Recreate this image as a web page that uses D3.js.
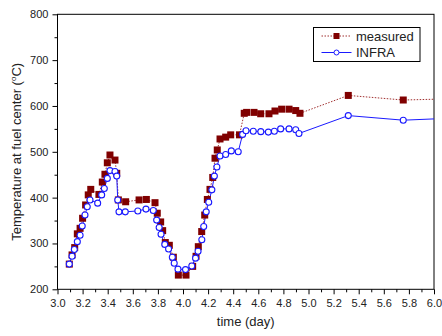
<!DOCTYPE html>
<html lang="en">
  <head>
    <meta charset="UTF-8" />
    <script src="https://d3js.org/d3.v7.min.js"></script>
    <title>Fuel center temperature</title>
    <style>
      body { margin: 0; background: #fff; }
      text { font-family: "Liberation Sans", Arial, sans-serif; }
    </style>
  </head>
  <body>
    <script>
      // measured (squares)
      const measuredTime = [3.094, 3.116, 3.137, 3.158, 3.18, 3.2, 3.224, 3.245, 3.265, 3.33, 3.357, 3.378, 3.397, 3.418, 3.458, 3.472, 3.485, 3.543, 3.65, 3.708, 3.777, 3.795, 3.822, 3.838, 3.859, 3.891, 3.923, 3.963, 4.024, 4.077, 4.104, 4.122, 4.149, 4.173, 4.194, 4.215, 4.237, 4.255, 4.273, 4.295, 4.34, 4.38, 4.45, 4.488, 4.507, 4.566, 4.619, 4.685, 4.733, 4.786, 4.845, 4.898, 4.932, 5.317, 5.755, 6.2];
      const measuredTemp = [255, 275, 291, 321, 333, 355, 384, 406, 418, 407, 434, 451, 476, 493, 482, 453, 395, 391, 395, 396, 389, 366, 347, 328, 302, 296, 270, 231, 231, 250, 272, 293, 326, 362, 396, 418, 444, 486, 504, 528, 532, 537, 537, 584, 586, 586, 583, 583, 589, 593, 593, 590, 584, 623, 613, 616];

      // INFRA (circles)
      const infraTime = [3.094, 3.116, 3.134, 3.158, 3.18, 3.197, 3.219, 3.237, 3.259, 3.32, 3.352, 3.373, 3.397, 3.418, 3.458, 3.472, 3.48, 3.49, 3.54, 3.64, 3.705, 3.763, 3.79, 3.81, 3.825, 3.855, 3.885, 3.915, 3.93, 3.96, 4.02, 4.07, 4.1, 4.12, 4.15, 4.165, 4.185, 4.205, 4.23, 4.25, 4.27, 4.295, 4.34, 4.385, 4.44, 4.475, 4.502, 4.56, 4.62, 4.68, 4.728, 4.778, 4.845, 4.898, 4.924, 5.317, 5.755, 6.2];
      const infraTemp = [255, 272, 287, 304, 318, 338, 362, 380, 395, 388, 406, 420, 442, 459, 457, 447, 395, 369, 369, 371, 375, 372, 351, 335, 320, 298, 288, 270, 257, 244, 243, 251, 268, 283, 308, 337, 369, 390, 417, 447, 467, 491, 494, 502, 500, 538, 546, 545, 544, 543, 545, 550, 550, 548, 540, 579, 569, 574];

      const xTicks = d3.range(3.0, 6.01, 0.2);
      const yTicks = [200, 300, 400, 500, 600, 700, 800];
      const seriesNames = ["measured", "INFRA"];

      const width = 442, height = 336;
      const mLeft = 57.5, mRight = 434, mTop = 14.3, mBottom = 289.3;

      const svg = d3.select("body").append("svg")
        .attr("width", width)
        .attr("height", height);

      const x = d3.scaleLinear().domain([3, 6]).range([mLeft, mRight]);
      const y = d3.scaleLinear().domain([200, 800]).range([mBottom, mTop]);

      svg.append("defs").append("clipPath").attr("id", "plot")
        .append("rect")
        .attr("x", mLeft).attr("y", mTop)
        .attr("width", mRight - mLeft).attr("height", mBottom - mTop);

      // axes
      const xAxis = d3.axisBottom(x).tickValues(xTicks).tickSize(5)
        .tickFormat(d3.format(".1f"));
      const xMinor = d3.axisBottom(x).tickValues(d3.range(3.1, 6, 0.2)).tickSize(3).tickFormat("");
      const yAxis = d3.axisLeft(y).tickValues(yTicks).tickSize(5);
      const yMinor = d3.axisLeft(y).tickValues(d3.range(250, 800, 100)).tickSize(3).tickFormat("");

      const gx = svg.append("g").attr("transform", `translate(0,${mBottom})`).call(xAxis);
      svg.append("g").attr("transform", `translate(0,${mBottom})`).call(xMinor);
      const gy = svg.append("g").attr("transform", `translate(${mLeft},0)`).call(yAxis);
      svg.append("g").attr("transform", `translate(${mLeft},0)`).call(yMinor);

      svg.selectAll(".domain").remove();
      svg.selectAll(".tick line").attr("stroke", "#000");
      gx.selectAll("text").attr("font-size", 11).attr("fill", "#222").attr("dy", "0.9em");
      gy.selectAll("text").attr("font-size", 11).attr("fill", "#222").attr("dx", "-0.1em");

      // frame
      svg.append("rect")
        .attr("x", mLeft).attr("y", mTop)
        .attr("width", mRight - mLeft).attr("height", mBottom - mTop)
        .attr("fill", "none").attr("stroke", "#000").attr("stroke-width", 1);

      const plot = svg.append("g").attr("clip-path", "url(#plot)");

      const measured = measuredTime.map((t, i) => ({ t, v: measuredTemp[i] }));
      const infra = infraTime.map((t, i) => ({ t, v: infraTemp[i] }));

      const line = d3.line().x((d) => x(d.t)).y((d) => y(d.v));

      plot.append("path")
        .datum(measured)
        .attr("d", line)
        .attr("fill", "none")
        .attr("stroke", "#a03030")
        .attr("stroke-width", 1)
        .attr("stroke-dasharray", "1.5,1.5");

      plot.append("path")
        .datum(infra)
        .attr("d", line)
        .attr("fill", "none")
        .attr("stroke", "#1a1aff")
        .attr("stroke-width", 1);

      plot.selectAll("rect.sq")
        .data(measured)
        .join("rect")
        .attr("class", "sq")
        .attr("x", (d) => x(d.t) - 3.5)
        .attr("y", (d) => y(d.v) - 3.5)
        .attr("width", 7)
        .attr("height", 7)
        .attr("fill", "#800000");

      plot.selectAll("circle")
        .data(infra)
        .join("circle")
        .attr("cx", (d) => x(d.t))
        .attr("cy", (d) => y(d.v))
        .attr("r", 3)
        .attr("fill", "#fff")
        .attr("stroke", "#1a1aff")
        .attr("stroke-width", 1.1);

      // axis titles
      svg.append("text")
        .attr("x", (mLeft + mRight) / 2)
        .attr("y", 326)
        .attr("text-anchor", "middle")
        .attr("font-size", 13)
        .attr("fill", "#222")
        .text("time (day)");

      const yt = svg.append("text")
        .attr("transform", `translate(21,${(mTop + mBottom) / 2}) rotate(-90)`)
        .attr("text-anchor", "middle")
        .attr("font-size", 13)
        .attr("fill", "#222");
      yt.append("tspan").text("Temperature at fuel center (");
      yt.append("tspan").attr("font-size", 8).attr("dy", "-0.6em").text("o");
      yt.append("tspan").attr("dy", "0.4em").text("C)");

      // legend
      const lg = svg.append("g");
      lg.append("rect")
        .attr("x", 313.5).attr("y", 27.5)
        .attr("width", 106.5).attr("height", 34)
        .attr("fill", "#fff").attr("stroke", "#000");

      const legendY = [36, 52.5];
      seriesNames.forEach((name, i) => {
        const ly = legendY[i];
        lg.append("line")
          .attr("x1", 321.5).attr("x2", 351.5)
          .attr("y1", ly).attr("y2", ly)
          .attr("stroke", i === 0 ? "#a03030" : "#1a1aff")
          .attr("stroke-dasharray", i === 0 ? "1.5,1.5" : null);
        if (i === 0) {
          lg.append("rect")
            .attr("x", 336.5 - 3).attr("y", ly - 3)
            .attr("width", 6).attr("height", 6)
            .attr("fill", "#800000");
        } else {
          lg.append("circle")
            .attr("cx", 336.5).attr("cy", ly).attr("r", 2.5)
            .attr("fill", "#fff").attr("stroke", "#1a1aff");
        }
        lg.append("text")
          .attr("x", 356).attr("y", ly + 4.5)
          .attr("font-size", 13)
          .attr("fill", "#222")
          .text(name);
      });
    </script>
  </body>
</html>
